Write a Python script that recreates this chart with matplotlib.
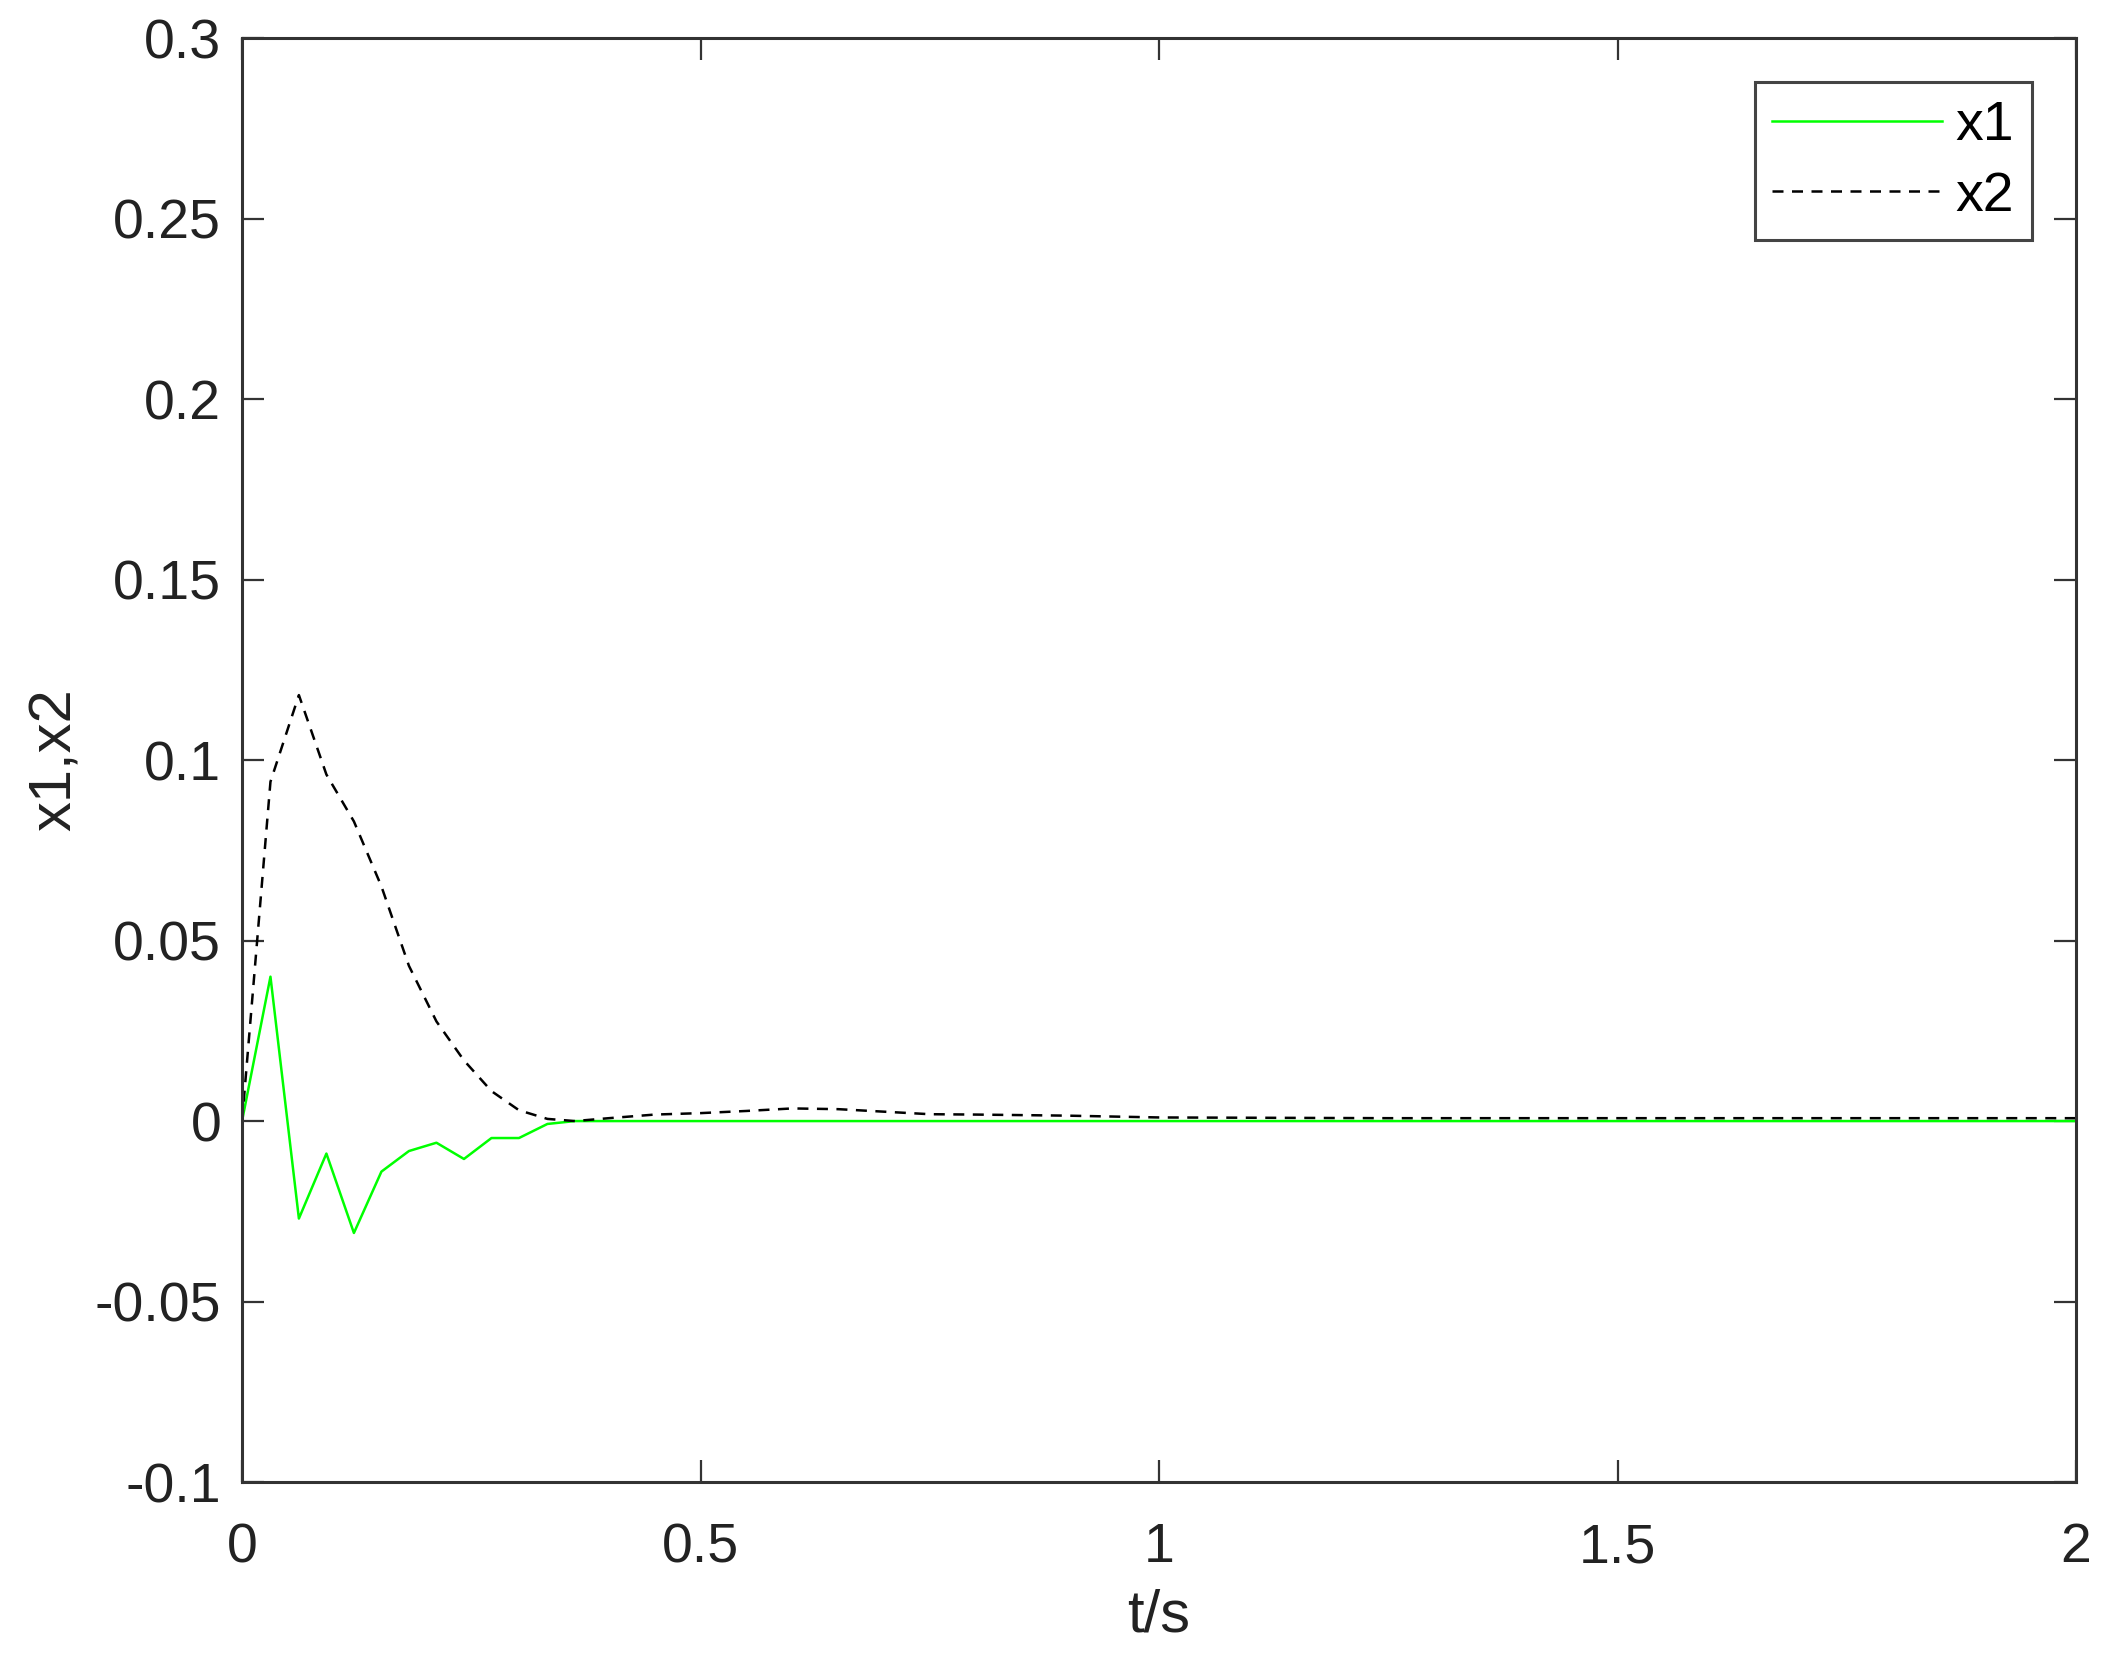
import numpy as np
import matplotlib
matplotlib.use('Agg')
import matplotlib.pyplot as plt

plt.rcParams['font.family'] = ['Liberation Sans', 'DejaVu Sans']
plt.rcParams['axes.unicode_minus'] = False

# valori
t = [0, 0.031, 0.062, 0.092, 0.122, 0.152, 0.182, 0.212, 0.242, 0.272, 0.302, 0.333, 0.363,
     0.40, 0.45, 0.50, 0.55, 0.60, 0.65, 0.70, 0.75, 0.80, 0.90, 1.00, 1.25, 1.50, 1.75, 2.00]
x1 = [0, 0.040, -0.027, -0.009, -0.031, -0.014, -0.0083, -0.006, -0.0105, -0.0047, -0.0047, -0.0008, 0,
      0, 0, 0, 0, 0, 0, 0, 0, 0, 0, 0, 0, 0, 0, 0]
x2 = [0, 0.094, 0.118, 0.096, 0.083, 0.065, 0.043, 0.0276, 0.0168, 0.0083, 0.003, 0.0006, 0,
      0.0008, 0.0018, 0.0022, 0.0028, 0.0035, 0.0033, 0.0026, 0.0019, 0.0018, 0.0015, 0.0010,
      0.0008, 0.0008, 0.0008, 0.0008]

x_ticks = [0, 0.5, 1, 1.5, 2]
x_tick_labels = ['0', '0.5', '1', '1.5', '2']
y_ticks = [-0.1, -0.05, 0, 0.05, 0.1, 0.15, 0.2, 0.25, 0.3]
y_tick_labels = ['-0.1', '-0.05', '0', '0.05', '0.1', '0.15', '0.2', '0.25', '0.3']

fig = plt.figure(figsize=(21.12, 16.69), dpi=100)
ax = fig.add_axes([0.1146, 0.1120, 0.9830 - 0.1146, 0.9772 - 0.1120])

ax.plot(t, x1, color='#00ff00', linewidth=1.8, label='x1')
ax.plot(t, x2, color='black', linewidth=1.8, linestyle=(0, (4.4, 3.4)), label='x2')

ax.set_xlim(0, 2)
ax.set_ylim(-0.1, 0.3)
ax.set_xticks(x_ticks)
ax.set_xticklabels(x_tick_labels)
ax.set_yticks(y_ticks)
ax.set_yticklabels(y_tick_labels)

for s in ax.spines.values():
    s.set_color('#333333')
    s.set_linewidth(2.2)

ax.tick_params(axis='both', direction='in', length=16, width=1.6, color='#333333',
               labelsize=40, labelcolor='#222222', top=True, right=True)
ax.tick_params(axis='x', pad=29)
ax.tick_params(axis='y', pad=15)

ax.set_xlabel('t/s', fontsize=43, color='#222222')
ax.set_ylabel('x1,x2', fontsize=43, color='#222222')
ax.xaxis.set_label_coords(0.5, -0.074)
ax.yaxis.set_label_coords(-0.087, 0.5)

leg = ax.legend(loc='upper right', fontsize=40, fancybox=False, framealpha=1,
                edgecolor='#444444', handlelength=3.05, handletextpad=0.24,
                labelspacing=0.33, borderpad=0.32, borderaxespad=0.8)
leg.get_frame().set_linewidth(2.2)

fig.savefig('out.png', dpi=100)
